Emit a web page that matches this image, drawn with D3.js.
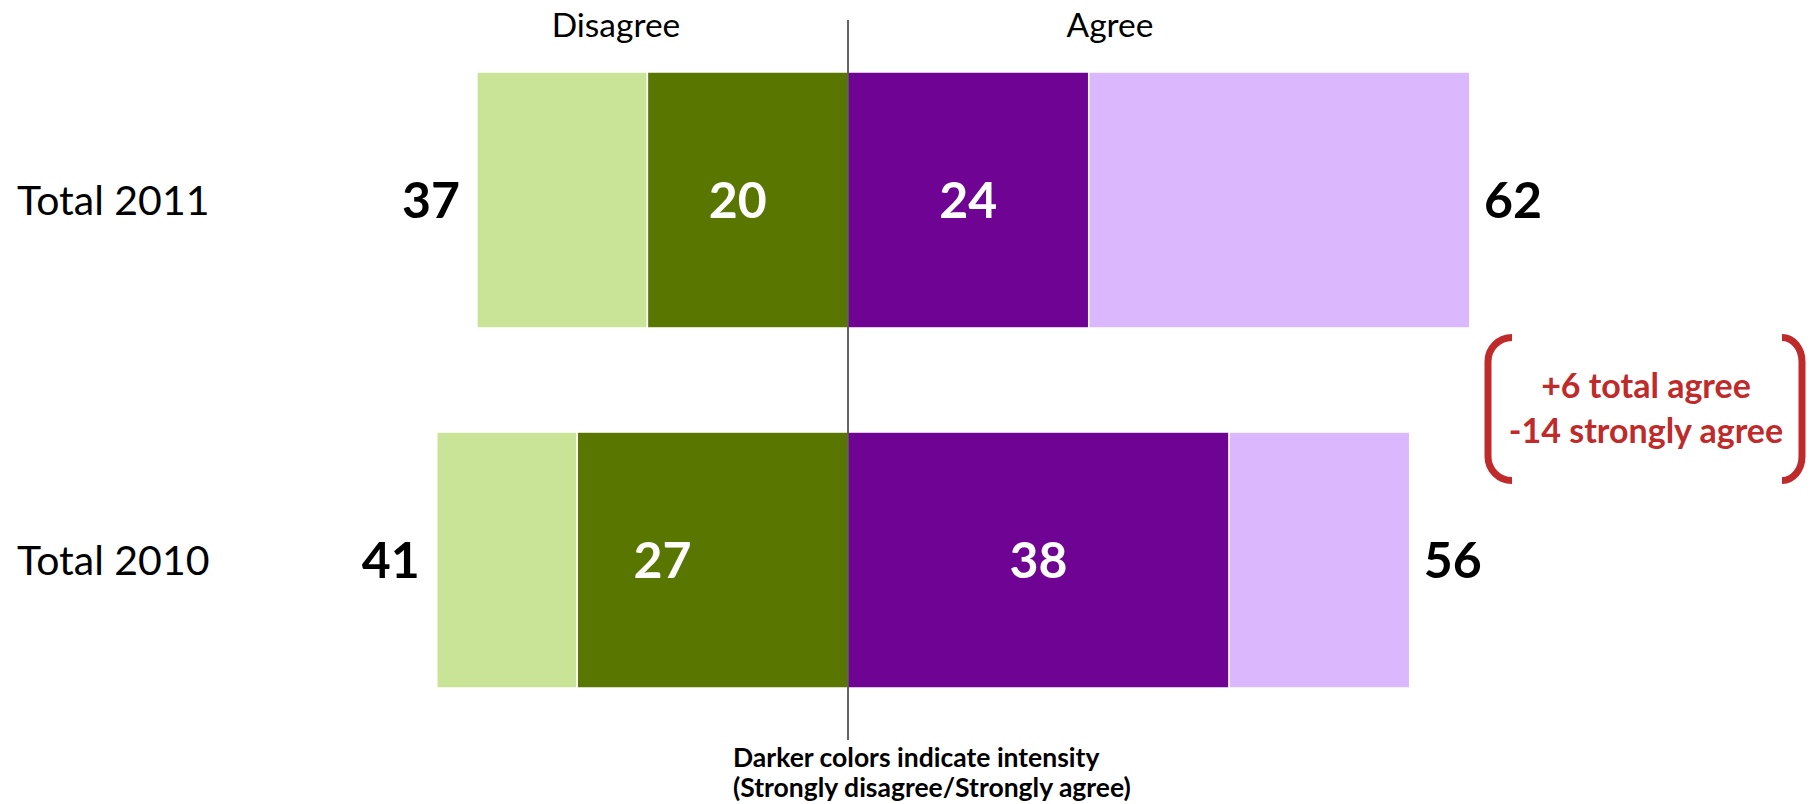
<!DOCTYPE html>
<html>
<head>
<meta charset="utf-8">
<script src="https://cdn.jsdelivr.net/npm/d3@7"></script>
<style>
  html, body { margin: 0; padding: 0; background: #ffffff; }
  svg { display: block; }
  text { font-family: Lato, "Open Sans", sans-serif; }
</style>
</head>
<body>
<svg id="chart" width="1814" height="804"></svg>
<script>
// Survey rows and the share (%) in each response group
const categories = ["Total 2011", "Total 2010"];
const disagreeTotal = [37, 41];
const disagreeStrong = [20, 27];
const agreeStrong = [24, 38];
const agreeTotal = [62, 56];

const sideHeaders = ["Disagree", "Agree"];
const footnoteLines = [
  "Darker colors indicate intensity",
  "(Strongly disagree/Strongly agree)"
];

const colors = {
  disagreeLight: "#c9e496",
  disagreeDark: "#587600",
  agreeDark: "#6f0393",
  agreeLight: "#dbb8fd",
  note: "#bf2a2a",
  axis: "#222222"
};

(function drawChart() {
  const svg = d3.select("#chart");

  // Diverging scale: zero sits on the centre divider
  const x = d3.scaleLinear().domain([-60, 96]).range([246.2, 1810.9]);
  const y = d3.scaleBand().domain(categories).range([72, 688]).paddingInner(0.289);
  const bw = y.bandwidth();

  const rows = categories.map((c, i) => ({
    cat: c,
    dTot: disagreeTotal[i],
    dStr: disagreeStrong[i],
    aStr: agreeStrong[i],
    aTot: agreeTotal[i]
  }));

  // Stacked segments per row
  const segs = [];
  rows.forEach(r => {
    segs.push({ cat: r.cat, x0: -r.dTot, x1: -r.dStr, fill: colors.disagreeLight });
    segs.push({ cat: r.cat, x0: -r.dStr, x1: 0, fill: colors.disagreeDark });
    segs.push({ cat: r.cat, x0: 0, x1: r.aStr, fill: colors.agreeDark });
    segs.push({ cat: r.cat, x0: r.aStr, x1: r.aTot, fill: colors.agreeLight });
  });

  svg.append("g").selectAll("rect").data(segs).join("rect")
    .attr("x", d => x(d.x0))
    .attr("y", d => y(d.cat))
    .attr("width", d => x(d.x1) - x(d.x0))
    .attr("height", bw)
    .attr("fill", d => d.fill)
    .attr("stroke", "#ffffff")
    .attr("stroke-width", 1.5);

  // Centre divider
  svg.append("line")
    .attr("x1", x(0)).attr("x2", x(0))
    .attr("y1", 20).attr("y2", 740)
    .attr("stroke", colors.axis)
    .attr("stroke-width", 1.4);

  // Side headers
  svg.append("g").selectAll("text").data(sideHeaders).join("text")
    .attr("x", (d, i) => i === 0 ? 616 : 1110)
    .attr("y", 37)
    .attr("text-anchor", "middle")
    .attr("font-size", 33.5)
    .attr("fill", "#000")
    .text(d => d);

  // Row labels
  const catSize = 41;
  svg.append("g").selectAll("text").data(categories).join("text")
    .attr("x", 17)
    .attr("y", d => y(d) + bw / 2 + catSize * 0.36)
    .attr("font-size", catSize)
    .attr("fill", "#000")
    .text(d => d);

  // Value labels
  const numSize = 50;
  const base = d => y(d.cat) + bw / 2 + numSize * 0.36;
  const strongDisNudge = [-1, -5];
  const numG = svg.append("g")
    .attr("font-size", numSize)
    .attr("font-weight", 700);

  numG.selectAll("text.dtot").data(rows).join("text")
    .attr("class", "dtot")
    .attr("x", d => x(-d.dTot) - 17)
    .attr("y", base)
    .attr("text-anchor", "end")
    .attr("fill", "#000")
    .text(d => d.dTot);

  numG.selectAll("text.atot").data(rows).join("text")
    .attr("class", "atot")
    .attr("x", d => x(d.aTot) + 14)
    .attr("y", base)
    .attr("text-anchor", "start")
    .attr("fill", "#000")
    .text(d => d.aTot);

  numG.selectAll("text.dstr").data(rows).join("text")
    .attr("class", "dstr")
    .attr("x", (d, i) => x(-d.dStr / 2 + strongDisNudge[i]))
    .attr("y", base)
    .attr("text-anchor", "middle")
    .attr("fill", "#fff")
    .text(d => d.dStr);

  numG.selectAll("text.astr").data(rows).join("text")
    .attr("class", "astr")
    .attr("x", d => x(d.aStr / 2))
    .attr("y", base)
    .attr("text-anchor", "middle")
    .attr("fill", "#fff")
    .text(d => d.aStr);

  // Year-over-year change callout
  const fmt = v => (v > 0 ? "+" : "") + v;
  const noteLines = [
    fmt(agreeTotal[0] - agreeTotal[1]) + " total agree",
    fmt(agreeStrong[0] - agreeStrong[1]) + " strongly agree"
  ];
  const note = svg.append("g");
  const yTop = 337.5, yBot = 480.5, rr = 24;
  note.append("path")
    .attr("d", `M1512,${yTop} A24,${rr} 0 0 0 1488,${yTop + rr} L1488,${yBot - rr} A24,${rr} 0 0 0 1512,${yBot}`)
    .attr("fill", "none").attr("stroke", colors.note).attr("stroke-width", 7);
  note.append("path")
    .attr("d", `M1782,${yTop} A20,${rr} 0 0 1 1802,${yTop + rr} L1802,${yBot - rr} A20,${rr} 0 0 1 1782,${yBot}`)
    .attr("fill", "none").attr("stroke", colors.note).attr("stroke-width", 7);
  note.selectAll("text").data(noteLines).join("text")
    .attr("x", 1646)
    .attr("y", (d, i) => 398 + i * 45)
    .attr("text-anchor", "middle")
    .attr("font-size", 34)
    .attr("font-weight", 700)
    .attr("fill", colors.note)
    .text(d => d);

  // Footnote
  svg.append("g").selectAll("text").data(footnoteLines).join("text")
    .attr("x", 733)
    .attr("y", (d, i) => 767 + i * 30)
    .attr("font-size", 26.5)
    .attr("font-weight", 700)
    .attr("fill", "#000")
    .text(d => d);
})();
</script>
</body>
</html>
